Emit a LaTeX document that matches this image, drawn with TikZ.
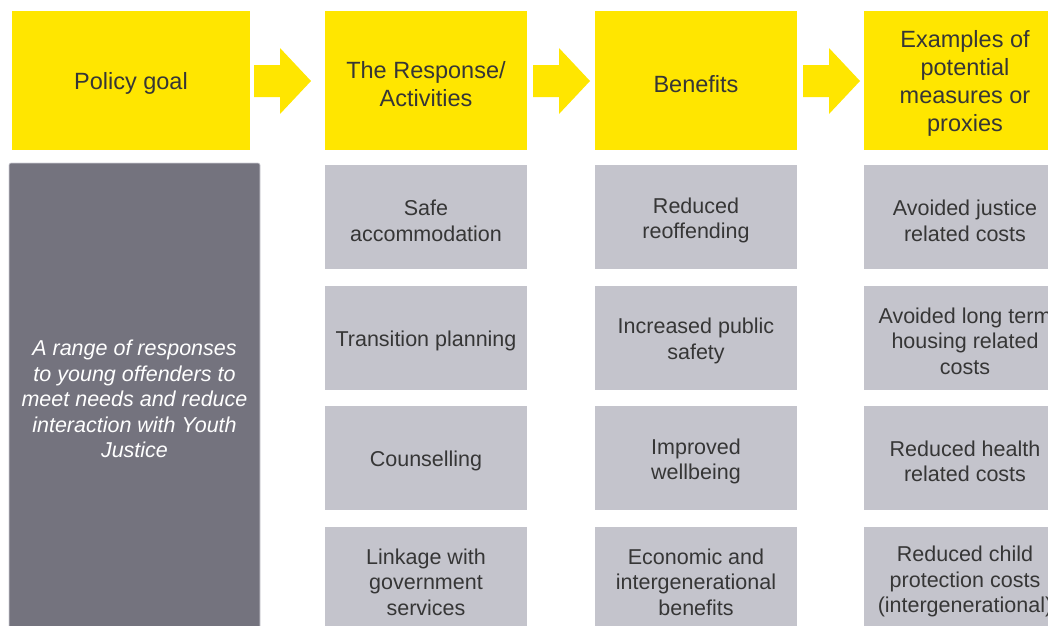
\documentclass[tikz,border=0pt]{standalone}
\usepackage{fontspec}
\setmainfont{Liberation Sans}
\usetikzlibrary{positioning}
\definecolor{eyyellow}{HTML}{FFE600}
\definecolor{cellgray}{HTML}{C4C4CC}
\definecolor{goalgray}{HTML}{74737E}
\definecolor{txtgray}{HTML}{363636}
% struts that push the first line of a box down a little
\newcommand{\hstrut}{\rule{0pt}{23.5pt}}
\newcommand{\cstrut}{\rule{0pt}{22pt}}
\tikzset{
  head/.style={fill=eyyellow, text=txtgray, minimum width=202pt, minimum height=139pt,
    inner sep=0pt, align=center, font=\fontsize{23.5}{28}\selectfont},
  cell/.style={fill=cellgray, text=txtgray, minimum width=202pt, minimum height=104pt,
    inner sep=0pt, align=center, font=\fontsize{21.5}{25.5}\selectfont},
  goalbox/.style={fill=goalgray, draw=cellgray!80, line width=0.6pt, rounded corners=2pt,
    text=white, minimum width=251pt, minimum height=466pt, inner sep=0pt, align=center,
    font=\fontsize{21.5}{25.5}\selectfont\itshape},
  blockarrow/.pic={\fill[eyyellow] (0,-16) -- (26,-16) -- (26,-33) -- (57,0) -- (26,33)
    -- (26,16) -- (0,16) -- cycle;}
}
\begin{document}
\begin{tikzpicture}[x=1pt,y=-1pt]
  \useasboundingbox (0,0) rectangle (1048,625);
  \clip (0,0) rectangle (1048,625);
  % headings
  \node[head, minimum width=238pt] (goal) at (131,80.5) {\hstrut Policy goal};
  \node[head] (resp) at (426,80.5) {\hstrut The Response/\\Activities};
  \node[head] (ben) at (696,80.5) {\hstrut Benefits};
  \node[head] (meas) at (965,80.5) {\hstrut Examples of\\potential\\measures or\\proxies};
  \pic at (254,81) {blockarrow};
  \pic at (533,81) {blockarrow};
  \pic at (803,81) {blockarrow};
  % policy goal
  \node[goalbox] (range) at (134.5,396) {\cstrut A range of responses\\to young offenders to\\meet needs and reduce\\interaction with Youth\\Justice};
  % responses
  \node[cell, below=15pt of resp] (resp1) {\cstrut Safe\\accommodation};
  \node[cell, below=16pt of resp1] (resp2) {\cstrut Transition planning};
  \node[cell, below=16pt of resp2] (resp3) {\cstrut Counselling};
  \node[cell, below=16pt of resp3] (resp4) {\cstrut Linkage with\\government\\services};
  % benefits
  \node[cell, below=15pt of ben] (ben1) {\cstrut Reduced\\reoffending};
  \node[cell, below=16pt of ben1] (ben2) {\cstrut Increased public\\safety};
  \node[cell, below=16pt of ben2] (ben3) {\cstrut Improved\\wellbeing};
  \node[cell, below=16pt of ben3] (ben4) {\cstrut Economic and\\intergenerational\\benefits};
  % measures
  \node[cell, below=15pt of meas] (meas1) {\cstrut Avoided justice\\related costs};
  \node[cell, below=16pt of meas1] (meas2) {\cstrut Avoided long term\\housing related\\costs};
  \node[cell, below=16pt of meas2] (meas3) {\cstrut Reduced health\\related costs};
  \node[cell, below=16pt of meas3] (meas4) {\cstrut Reduced child\\protection costs\\(intergenerational)};
\end{tikzpicture}
\end{document}
